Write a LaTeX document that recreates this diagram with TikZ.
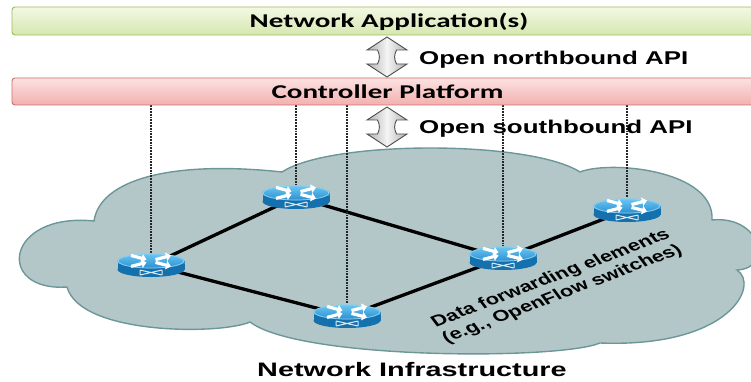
\documentclass[tikz,border=0pt]{standalone}
\usepackage{fontspec}
\setmainfont{Liberation Sans}
\newfontfamily\calib{Carlito}
\usetikzlibrary{arrows.meta}
\pgfdeclarelayer{bg}
\pgfdeclarelayer{edges}
\pgfsetlayers{bg,edges,main}
\definecolor{appT}{HTML}{F3F8E3}
\definecolor{appB}{HTML}{D6E7B0}
\definecolor{appL}{HTML}{9CBB5E}
\definecolor{ctlT}{HTML}{FCE2E2}
\definecolor{ctlB}{HTML}{F2B0AE}
\definecolor{ctlL}{HTML}{CD6F6C}
\definecolor{cloudF}{HTML}{B4C7C8}
\definecolor{cloudL}{HTML}{6C9799}
\definecolor{rtopT}{HTML}{6CC8F2}
\definecolor{rtopB}{HTML}{2A8ED0}
\definecolor{rtopL}{HTML}{8ED3F4}
\definecolor{rside}{HTML}{1571AE}
\definecolor{rsideL}{HTML}{2C8AC6}
\definecolor{arrG}{HTML}{B0B0B0}
\definecolor{arrL}{HTML}{4D4D4D}
\newcommand{\hstretch}[2]{\scalebox{#1}[1]{#2}}
\newcommand{\routerpic}{%
  \begin{scope}[shift={(path picture bounding box.center)}]
    \fill[rside] (0,4.5) ellipse[x radius=33.5, y radius=7.5];
    \fill[rside] (-33.5,-4) rectangle (33.5,4.5);
    \fill[rsideL] (-33.5,-4) rectangle (33.5,-1);
    \shade[top color=rtopT, bottom color=rtopB] (0,-4) ellipse[x radius=33.5, y radius=7.5];
    \draw[rtopL, line width=0.7] (0,-4) ellipse[x radius=32.8, y radius=7];
    \draw[white, line width=3.2, -{Triangle[length=5,width=8.5]}] (-20,-9.6) -- (-4.5,-5.4);
    \draw[white, line width=3.2, -{Triangle[length=5,width=8.5]}] (-20,1.4) -- (-4.5,-2.6);
    \draw[white, line width=3.2, -{Triangle[length=5,width=8.5]}] (4.5,-5.4) -- (20,-9.6);
    \draw[white, line width=3.2, -{Triangle[length=5,width=8.5]}] (4.5,-2.6) -- (20,1.4);
    \draw[white!85!rside, line width=1] (-11,5) -- (11,10) (-11,10) -- (11,5)
      (-11,5) -- (-11,10) (11,5) -- (11,10);
  \end{scope}}
\tikzset{
  bar/.style={rectangle, rounded corners=3pt, minimum width=752pt, inner sep=0pt, line width=0.9pt},
  appbar/.style={bar, minimum height=28pt, top color=appT, bottom color=appB, draw=appL},
  ctlbar/.style={bar, minimum height=27pt, top color=ctlT, bottom color=ctlB, draw=ctlL},
  bartext/.style={font=\calib\bfseries\fontsize{19.5}{19.5}\selectfont},
  apitext/.style={anchor=west, inner sep=0pt, font=\bfseries\fontsize{18.5}{18.5}\selectfont},
  router/.style={rectangle, minimum width=68pt, minimum height=25pt, inner sep=0pt, outer sep=0pt,
    path picture={\routerpic}},
  link/.style={line width=3.3pt, black},
  ctrlline/.style={densely dotted, line width=1.8pt, black!85},
  cloud/.style={fill=cloudF, draw=cloudL, line width=1.4pt},
  bigarrow/.style={left color=arrG, right color=arrG, middle color=white!96!black, draw=arrL, line width=0.9pt, line join=miter}
}
\newcommand{\dblarrow}[2]{%
  \path[bigarrow] (387,#1) -- (407,#1+13) -- (396.5,#1+13)
     .. controls (394,#1+18) and (394,#2-18) .. (396.5,#2-13)
     -- (407,#2-13) -- (387,#2) -- (367,#2-13) -- (377.5,#2-13)
     .. controls (380,#2-18) and (380,#1+18) .. (377.5,#1+13)
     -- (367,#1+13) -- cycle;}
\begin{document}
\begin{tikzpicture}[x=1pt,y=-1pt]
\useasboundingbox (0,0) rectangle (751,382);
% bars
\node[appbar] (app) at (388,21) {};
\node[bartext] (apptxt) at (389,21.5) {\hstretch{1.49}{Network Application(s)}};
\node[ctlbar] (ctl) at (388,91.5) {};
\node[bartext] (ctltxt) at (387.5,92) {\hstretch{1.49}{Controller Platform}};
% API arrows
\dblarrow{37}{77}
\dblarrow{107}{147}
\node[apitext] (nb) at (419,60) {\hstretch{1.4}{Open northbound API}};
\node[apitext] (sb) at (419,129) {\hstretch{1.4}{Open southbound API}};
% cloud
\begin{pgfonlayer}{bg}
\path[cloud] (67,287)
  .. controls (-5,292) and (5,212) .. (94,221)
  .. controls (100,180) and (170,160) .. (282,172)
  .. controls (330,140) and (530,140) .. (580,172)
  .. controls (610,160) and (715,170) .. (712,220)
  .. controls (760,215) and (775,268) .. (737,270)
  .. controls (760,285) and (730,348) .. (600,343)
  .. controls (560,360) and (300,360) .. (250,322)
  .. controls (220,335) and (80,335) .. (67,287) -- cycle;
\end{pgfonlayer}
% routers
\node[router] (r1) at (151,265) {};
\node[router] (r2) at (296,197) {};
\node[router] (r3) at (347,316) {};
\node[router] (r4) at (503,258) {};
\node[router] (r5) at (627,210) {};
\begin{pgfonlayer}{edges}
\draw[link] (r1.center) -- (r2.center);
\draw[link] (r2.center) -- (r4.center);
\draw[link] (r1.center) -- (r3.center);
\draw[link] (r3.center) -- (r4.center);
\draw[link] (r4.center) -- (r5.center);
\foreach \r in {r1,r2,r3,r4,r5}
  \draw[ctrlline] (\r.north |- ctl.south) -- (\r.north);
\end{pgfonlayer}
% labels
\node[inner sep=0pt] (dfe) at (557,287) {\hstretch{1.4}{\rotatebox{28.2}{\bfseries\fontsize{15.6}{17.6}\selectfont
  \begin{tabular}{@{}c@{}}Data forwarding elements\\(e.g., OpenFlow switches)\end{tabular}}}};
\node[inner sep=0pt] (ni) at (412,370) {\hstretch{1.48}{\bfseries\fontsize{19.5}{19.5}\selectfont Network Infrastructure}};
\end{tikzpicture}
\end{document}
